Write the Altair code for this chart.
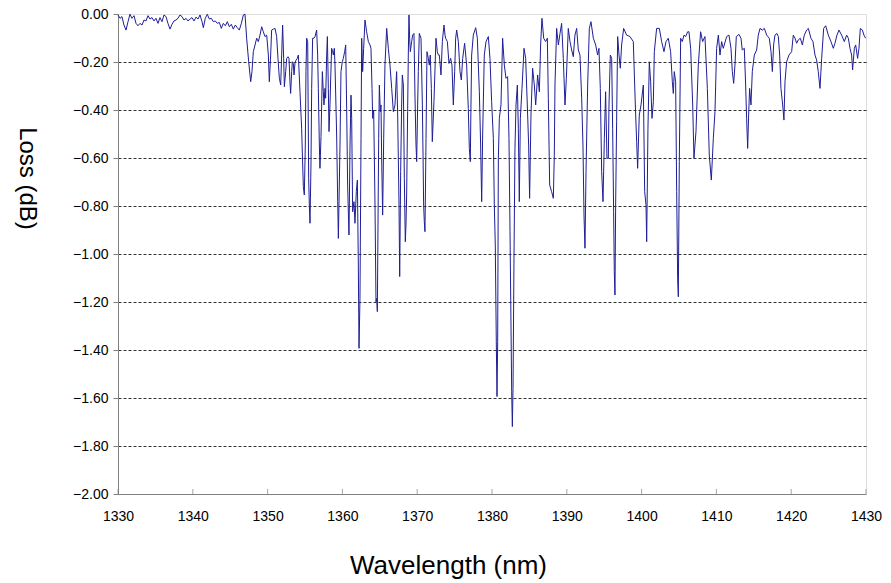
import altair as alt
import pandas as pd

wavelength = [
    1330.00, 1330.27, 1330.53, 1330.80, 1331.07, 1331.34, 1331.60, 1331.87, 1332.14, 1332.41,
    1332.67, 1332.94, 1333.21, 1333.48, 1333.74, 1334.01, 1334.28, 1334.55, 1334.81, 1335.08,
    1335.35, 1335.61, 1335.88, 1336.15, 1336.42, 1336.68, 1336.95, 1337.22, 1337.49, 1337.75,
    1338.02, 1338.29, 1338.56, 1338.82, 1339.09, 1339.36, 1339.63, 1339.89, 1340.16, 1340.43,
    1340.70, 1340.96, 1341.23, 1341.41, 1341.67, 1341.94, 1342.21, 1342.48, 1342.74, 1343.01,
    1343.28, 1343.55, 1343.81, 1344.08, 1344.35, 1344.62, 1344.88, 1345.15, 1345.42, 1345.69,
    1345.95, 1346.22, 1346.49, 1346.76, 1346.98,
    1347.20, 1347.47, 1347.74, 1347.91, 1348.09, 1348.32, 1348.54, 1348.76, 1348.98, 1349.21,
    1349.43, 1349.65, 1349.88, 1350.10, 1350.23, 1350.41, 1350.54, 1350.77, 1350.99, 1351.21,
    1351.39, 1351.57, 1351.75, 1351.88, 1352.01, 1352.15, 1352.24, 1352.42, 1352.55, 1352.73,
    1352.86, 1352.99, 1353.08, 1353.22, 1353.31, 1353.44, 1353.53, 1353.66, 1353.80, 1353.97,
    1354.11, 1354.33, 1354.55, 1354.69, 1354.78, 1354.91, 1355.04, 1355.13, 1355.22, 1355.36,
    1355.49, 1355.58, 1355.67, 1355.80, 1355.89, 1356.02, 1356.20, 1356.34, 1356.56, 1356.69,
    1356.78, 1356.92, 1357.00, 1357.14, 1357.32, 1357.45, 1357.54, 1357.67, 1357.76, 1357.90,
    1357.99, 1358.12, 1358.21, 1358.34, 1358.43, 1358.56, 1358.70, 1358.79, 1358.92, 1359.01,
    1359.23, 1359.37, 1359.46,
    1359.68, 1359.81, 1359.99, 1360.12, 1360.30, 1360.44, 1360.57, 1360.70, 1360.88, 1361.02,
    1361.15, 1361.24, 1361.37, 1361.55, 1361.68, 1361.86, 1362.00, 1362.13, 1362.22, 1362.35,
    1362.49, 1362.58, 1362.71, 1362.84, 1363.02, 1363.24, 1363.47, 1363.69, 1363.82, 1363.96,
    1364.05, 1364.18, 1364.36, 1364.49, 1364.58, 1364.67, 1364.76, 1364.85, 1364.94, 1365.07,
    1365.16, 1365.25, 1365.38, 1365.52, 1365.69, 1365.92, 1366.14, 1366.36, 1366.59, 1366.81,
    1367.03, 1367.25, 1367.39, 1367.57, 1367.66, 1367.79, 1367.92, 1368.01, 1368.15, 1368.28,
    1368.41, 1368.50, 1368.59, 1368.72, 1368.81, 1368.90, 1368.99, 1369.08, 1369.26, 1369.39,
    1369.57, 1369.71, 1369.84, 1369.93, 1370.06, 1370.15, 1370.28, 1370.51, 1370.69, 1370.78,
    1370.86, 1370.95, 1371.04, 1371.18, 1371.31, 1371.49, 1371.62, 1371.75, 1371.89, 1372.02,
    1372.24, 1372.51, 1372.69, 1372.82, 1372.96, 1373.18, 1373.36, 1373.58, 1373.72, 1373.80,
    1374.03, 1374.25, 1374.47, 1374.65, 1374.83, 1375.01, 1375.14, 1375.28, 1375.50, 1375.72,
    1375.90, 1376.08, 1376.34, 1376.61, 1376.83, 1376.97, 1377.10, 1377.19, 1377.28, 1377.50,
    1377.82, 1378.04, 1378.31, 1378.48, 1378.62, 1378.75, 1378.97, 1379.20, 1379.51, 1379.73,
    1379.95, 1380.18, 1380.31, 1380.44, 1380.58, 1380.67, 1380.76, 1380.85, 1380.98, 1381.20,
    1381.42, 1381.65, 1381.87, 1382.09, 1382.27, 1382.41, 1382.54, 1382.63, 1382.72, 1382.81,
    1382.94, 1383.07, 1383.21, 1383.39, 1383.52, 1383.65, 1383.79, 1384.01, 1384.28, 1384.50,
    1384.72, 1384.90, 1385.03,
    1385.21, 1385.43, 1385.66, 1385.84, 1386.10, 1386.33, 1386.50, 1386.68, 1386.91, 1387.17,
    1387.40, 1387.53, 1387.71, 1387.97, 1388.20, 1388.33, 1388.42, 1388.64, 1388.87, 1389.09,
    1389.31, 1389.53, 1389.76, 1389.94, 1390.20, 1390.43, 1390.65, 1390.87, 1391.09, 1391.32,
    1391.54, 1391.76, 1391.99, 1392.16, 1392.30, 1392.43, 1392.57, 1392.79, 1393.01, 1393.23,
    1393.55, 1393.86, 1394.12, 1394.30, 1394.48, 1394.66, 1394.84, 1395.02, 1395.19, 1395.37,
    1395.55, 1395.64, 1395.82, 1396.00, 1396.13, 1396.26, 1396.35, 1396.44, 1396.53, 1396.66,
    1396.80, 1396.98, 1397.15, 1397.33, 1397.60,
    1398.00, 1398.45, 1398.89, 1399.16, 1399.34, 1399.47, 1399.69, 1399.92, 1400.23, 1400.41,
    1400.59, 1400.68, 1400.85, 1401.03, 1401.21, 1401.39, 1401.57, 1401.70, 1402.01, 1402.37,
    1402.68, 1402.99, 1403.26, 1403.57, 1403.88, 1404.11, 1404.24, 1404.37, 1404.55, 1404.69,
    1404.82, 1404.91, 1405.04, 1405.22, 1405.44, 1405.67, 1405.89, 1406.16, 1406.33, 1406.56,
    1406.83, 1407.00, 1407.27, 1407.58, 1407.89, 1408.16, 1408.47, 1408.79, 1409.05, 1409.32,
    1409.59, 1409.81, 1410.03, 1410.26,
    1410.48, 1410.70, 1410.92, 1411.37, 1411.68, 1411.95, 1412.13, 1412.31, 1412.48, 1412.66,
    1413.02, 1413.29, 1413.46, 1413.73, 1413.91, 1414.04, 1414.18, 1414.31, 1414.44, 1414.62,
    1414.80, 1415.07, 1415.38, 1415.60, 1415.83, 1416.14, 1416.41, 1416.72, 1417.07, 1417.30,
    1417.48, 1417.65, 1417.83, 1418.10, 1418.28, 1418.46, 1418.63, 1418.86, 1419.03, 1419.17,
    1419.39, 1419.70, 1420.06, 1420.28, 1420.51, 1420.73, 1420.95, 1421.22, 1421.49, 1421.75,
    1422.06, 1422.29, 1422.64, 1422.91, 1423.18, 1423.40, 1423.62, 1423.85, 1424.07, 1424.34,
    1424.61, 1424.96, 1425.32, 1425.63, 1425.85, 1426.12, 1426.39, 1426.74, 1427.10, 1427.41,
    1427.64, 1427.86, 1428.08, 1428.21, 1428.44, 1428.62, 1428.88, 1429.06, 1429.24, 1429.51,
    1429.73, 1429.95,
]

loss_db = [
    -0.004, -0.018, -0.011, -0.046, -0.067, -0.032, -0.001, -0.018, -0.007, -0.039,
    -0.049, -0.039, -0.046, -0.025, -0.029, -0.007, -0.021, -0.015, -0.029, -0.018,
    -0.039, -0.015, -0.032, -0.004, -0.011, -0.039, -0.063, -0.043, -0.029, -0.025,
    -0.018, -0.004, -0.011, -0.025, -0.018, -0.029, -0.021, -0.015, -0.029, -0.013,
    -0.021, -0.004, -0.032, -0.057, -0.018, -0.001, -0.021, -0.018, -0.032, -0.029,
    -0.039, -0.035, -0.060, -0.039, -0.049, -0.032, -0.053, -0.043, -0.063, -0.046,
    -0.057, -0.067, -0.039, -0.004, -0.001,
    -0.101, -0.199, -0.282, -0.240, -0.157, -0.129, -0.101, -0.115, -0.088, -0.053,
    -0.074, -0.094, -0.088, -0.171, -0.282, -0.171, -0.067, -0.063, -0.060, -0.094,
    -0.185, -0.268, -0.296, -0.171, -0.046, -0.185, -0.303, -0.240, -0.185, -0.178,
    -0.185, -0.282, -0.331, -0.240, -0.199, -0.206, -0.254, -0.206, -0.192, -0.185,
    -0.171, -0.324, -0.476, -0.629, -0.719, -0.754, -0.546, -0.240, -0.101, -0.115,
    -0.685, -0.796, -0.872, -0.629, -0.310, -0.101, -0.101, -0.094, -0.067, -0.171,
    -0.310, -0.546, -0.643, -0.511, -0.240, -0.324, -0.379, -0.310, -0.351, -0.171,
    -0.094, -0.310, -0.490, -0.379, -0.275, -0.143, -0.157, -0.171, -0.143, -0.213,
    -0.500, -0.780, -0.935,
    -0.546, -0.240, -0.199, -0.185, -0.157, -0.129, -0.393, -0.713, -0.921, -0.546,
    -0.338, -0.435, -0.824, -0.782, -0.872, -0.740, -0.692, -1.046, -1.393, -1.185,
    -0.518, -0.101, -0.240, -0.143, -0.025, -0.074, -0.115, -0.129, -0.143, -0.310,
    -0.435, -0.400, -0.796, -1.199, -1.185, -1.240, -0.879, -0.518, -0.296, -0.407,
    -0.379, -0.601, -0.838, -0.518, -0.213, -0.060, -0.143, -0.213, -0.310, -0.407,
    -0.379, -0.240, -0.421, -0.796, -1.094, -0.657, -0.379, -0.254, -0.296, -0.685,
    -0.949, -0.879, -0.754, -0.407, -0.171, -0.004, -0.101, -0.157, -0.115, -0.088,
    -0.081, -0.351, -0.546, -0.615, -0.379, -0.240, -0.081, -0.101, -0.379, -0.588,
    -0.796, -0.865, -0.907, -0.518, -0.157, -0.185, -0.213, -0.171, -0.310, -0.532,
    -0.365, -0.101, -0.157, -0.171, -0.171, -0.254, -0.115, -0.046, -0.088, -0.101,
    -0.115, -0.206, -0.185, -0.213, -0.379, -0.240, -0.101, -0.067, -0.115, -0.240,
    -0.275, -0.185, -0.122, -0.213, -0.393, -0.560, -0.615, -0.379, -0.171, -0.088,
    -0.057, -0.101, -0.324, -0.546, -0.782, -0.504, -0.171, -0.115, -0.094, -0.185,
    -0.365, -0.518, -0.796, -0.963, -1.379, -1.594, -1.365, -0.601, -0.435, -0.379,
    -0.101, -0.213, -0.268, -0.261, -0.518, -0.907, -1.296, -1.574, -1.719, -1.560,
    -1.018, -0.560, -0.379, -0.296, -0.476, -0.782, -0.435, -0.310, -0.143, -0.185,
    -0.379, -0.546, -0.768,
    -0.421, -0.226, -0.296, -0.379, -0.254, -0.324, -0.129, -0.018, -0.101, -0.115,
    -0.101, -0.351, -0.713, -0.740, -0.768, -0.588, -0.296, -0.060, -0.129, -0.081,
    -0.039, -0.185, -0.379, -0.268, -0.060, -0.115, -0.150, -0.178, -0.088, -0.060,
    -0.150, -0.171, -0.351, -0.546, -0.838, -0.976, -0.657, -0.296, -0.060, -0.032,
    -0.101, -0.129, -0.171, -0.143, -0.310, -0.657, -0.782, -0.518, -0.324, -0.601,
    -0.601, -0.379, -0.171, -0.185, -0.476, -0.824, -1.074, -1.171, -0.796, -0.449,
    -0.094, -0.171, -0.226, -0.129, -0.060,
    -0.088, -0.094, -0.115, -0.379, -0.532, -0.643, -0.421, -0.379, -0.296, -0.740,
    -0.796, -0.949, -0.476, -0.199, -0.282, -0.435, -0.365, -0.157, -0.060, -0.060,
    -0.115, -0.157, -0.115, -0.101, -0.157, -0.282, -0.331, -0.240, -0.282, -0.740,
    -1.101, -1.178, -0.615, -0.101, -0.115, -0.088, -0.094, -0.074, -0.074, -0.143,
    -0.379, -0.601, -0.490, -0.213, -0.074, -0.115, -0.094, -0.310, -0.588, -0.692,
    -0.518, -0.407, -0.143, -0.088,
    -0.171, -0.115, -0.143, -0.094, -0.088, -0.143, -0.240, -0.289, -0.213, -0.094,
    -0.085, -0.101, -0.150, -0.143, -0.296, -0.435, -0.560, -0.421, -0.310, -0.379,
    -0.240, -0.171, -0.150, -0.088, -0.060, -0.067, -0.060, -0.088, -0.101, -0.157,
    -0.240, -0.129, -0.088, -0.081, -0.094, -0.171, -0.310, -0.379, -0.442, -0.282,
    -0.199, -0.171, -0.157, -0.088, -0.101, -0.122, -0.108, -0.101, -0.129, -0.088,
    -0.067, -0.060, -0.101, -0.115, -0.171, -0.192, -0.240, -0.310, -0.185, -0.060,
    -0.049, -0.088, -0.115, -0.143, -0.122, -0.088, -0.067, -0.088, -0.115, -0.088,
    -0.101, -0.143, -0.171, -0.233, -0.143, -0.129, -0.185, -0.143, -0.060, -0.067,
    -0.088, -0.101,
]

x_ticks = [1330, 1340, 1350, 1360, 1370, 1380, 1390, 1400, 1410, 1420, 1430]
y_ticks = [0.0, -0.2, -0.4, -0.6, -0.8, -1.0, -1.2, -1.4, -1.6, -1.8, -2.0]

df = pd.DataFrame({"wl": wavelength, "loss": loss_db})
ticks_df = pd.DataFrame({"t": x_ticks})

FONT = "Liberation Sans"

x_scale = alt.Scale(domain=[1330, 1430], nice=False, zero=False)
y_scale = alt.Scale(domain=[-2.0, 0.0], nice=False, zero=False)

line = alt.Chart(df).mark_line(color="#1e1e96", strokeWidth=1, interpolate="linear").encode(
    x=alt.X("wl:Q", scale=x_scale,
            axis=alt.Axis(values=x_ticks, format="d", title="Wavelength (nm)", grid=False,
                          ticks=False, labelPadding=15, labelFontSize=14, labelFont=FONT,
                          labelColor="#000", domainColor="#808080",
                          labelFlush=False, labelOverlap=False, labelBound=False,
                          titleFont=FONT, titleFontSize=26, titleFontWeight="normal",
                          titleColor="#000", titleX=330, titleY=79,
                          titleBaseline="alphabetic", titleAlign="center")),
    y=alt.Y("loss:Q", scale=y_scale,
            axis=alt.Axis(values=y_ticks, format=".2f", title="Loss (dB)", grid=True,
                          gridColor=alt.condition("datum.value == 0 || datum.value == -2",
                                                  alt.value("transparent"), alt.value("#333333")),
                          gridDash=[3, 2], gridWidth=1,
                          tickSize=5, tickColor="#808080", labelPadding=5, labelFontSize=14,
                          labelFont=FONT, labelColor="#000", domainColor="#808080",
                          labelFlush=False, labelOverlap=False, labelBound=False,
                          titleFont=FONT, titleFontSize=24, titleFontWeight="normal",
                          titleColor="#000", titleAngle=90, titleX=-92, titleY=164,
                          titleBaseline="middle", titleAlign="center")),
)

xticks = alt.Chart(ticks_df).mark_tick(color="#808080", thickness=1, size=5, orient="vertical").encode(
    x=alt.X("t:Q", scale=x_scale),
    y=alt.value(477.5),
)

chart = alt.layer(line, xticks).properties(
    width=748,
    height=480,
    autosize=alt.AutoSizeParams(type="none"),
    padding={"left": 110, "top": 6, "right": 17, "bottom": 89},
).configure_view(
    stroke="#888888", strokeWidth=1
).configure(background="white")

chart.save("out.html", embed_options={"renderer": "svg", "actions": False})
